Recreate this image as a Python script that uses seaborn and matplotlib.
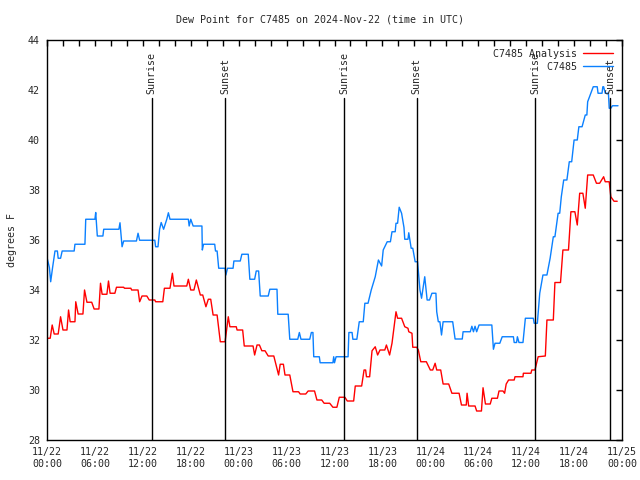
import pandas as pd
import seaborn as sns
import matplotlib.pyplot as plt
import matplotlib.dates as mdates
from matplotlib.ticker import MultipleLocator

# datos (horas desde 2024-11-22 00:00 UTC, grados F)
blue_h = [0.0, 0.3, 0.46, 0.7, 1.0, 1.3, 1.4, 1.7, 1.9, 3.4, 3.5, 4.75, 4.85, 6.0, 6.1, 6.3, 7.0, 7.1, 9.0,
          9.14, 9.4, 9.6, 11.2, 11.4, 11.6, 13.5, 13.6, 13.9, 14.1, 14.3, 14.6, 15.0, 15.2, 15.4, 17.7,
          17.8, 18.0, 18.3, 19.4, 19.45, 19.6, 21.0, 21.1, 21.3, 21.5, 22.3, 22.4, 22.6, 23.3, 23.4, 24.2,
          24.4, 25.2, 25.4, 26.0, 26.2, 26.5, 26.7, 27.7, 27.9, 28.8, 28.9, 30.2, 30.4, 31.4, 31.6, 31.8,
          32.9, 33.1, 33.3, 33.4, 34.1, 34.2, 35.8, 35.9, 36.0, 36.2, 37.7, 37.8, 38.2, 38.3, 38.8, 39.1,
          39.6, 39.8, 40.2, 40.6, 41.1, 41.5, 41.9, 42.1, 42.6, 43.0, 43.2, 43.6, 43.7, 43.9, 44.1, 44.4,
          44.7, 44.8, 45.2, 45.3, 45.6, 45.8, 46.1, 46.4, 46.7, 46.9, 47.3, 47.6, 47.9, 48.2, 48.7, 48.8,
          49.0, 49.2, 49.4, 49.6, 50.8, 51.1, 52.0, 52.1, 53.0, 53.2, 53.4, 53.6, 53.8, 54.1, 55.7, 55.9,
          56.1, 56.7, 57.0, 58.4, 58.5, 58.8, 58.9, 59.1, 59.6, 59.9, 60.9, 61.0, 61.4, 61.7, 62.1, 62.6,
          63.0, 63.4, 63.6, 64.0, 64.2, 64.4, 64.7, 65.1, 65.4, 65.7, 66.0, 66.4, 66.6, 67.0, 67.4, 67.6,
          67.7, 68.4, 68.9, 69.0, 69.5, 69.6, 69.7, 69.9, 70.3, 70.4, 70.6, 70.8, 71.5]
blue_v = [35.3, 34.9, 34.33, 34.9, 35.56, 35.56, 35.27, 35.27, 35.56, 35.56, 35.83, 35.83, 36.83, 36.83,
          37.1, 36.16, 36.16, 36.43, 36.43, 36.69, 35.73, 35.96, 35.96, 36.27, 35.99, 35.99, 35.73, 35.73,
          36.43, 36.7, 36.43, 36.83, 37.09, 36.83, 36.83, 36.56, 36.83, 36.56, 36.56, 35.6, 35.83, 35.83,
          35.56, 35.56, 34.87, 34.87, 34.6, 34.87, 34.87, 35.16, 35.16, 35.43, 35.43, 34.43, 34.43, 34.76,
          34.76, 33.76, 33.76, 34.03, 34.03, 33.03, 33.03, 32.03, 32.03, 32.3, 32.03, 32.03, 32.3, 32.3,
          31.33, 31.33, 31.09, 31.09, 31.33, 31.09, 31.33, 31.33, 32.3, 32.3, 32.03, 32.03, 32.73, 32.73,
          33.47, 33.47, 34.0, 34.53, 35.2, 34.96, 35.6, 35.93, 35.93, 36.33, 36.33, 36.67, 36.67, 37.31,
          37.07, 36.5, 36.03, 36.03, 36.29, 35.67, 35.67, 35.13, 35.13, 34.0, 33.67, 34.53, 33.6, 33.6,
          33.87, 33.87, 33.13, 32.73, 32.73, 32.2, 32.73, 32.73, 32.04, 32.04, 32.33, 32.33, 32.55, 32.33,
          32.55, 32.33, 32.6, 32.6, 31.63, 31.87, 31.87, 32.13, 32.13, 31.9, 31.9, 32.13, 31.9, 31.9, 32.87,
          32.87, 32.67, 32.67, 33.87, 34.6, 34.6, 35.27, 36.13, 36.13, 37.07, 37.07, 37.73, 38.4, 38.4,
          39.13, 39.13, 40.0, 40.0, 40.53, 40.53, 41.0, 41.0, 41.53, 42.13, 42.13, 41.87, 41.87, 42.13,
          42.13, 41.87, 41.87, 41.27, 41.27, 41.37, 41.37]

red_h = [0.0, 0.4, 0.65, 0.9, 1.4, 1.7, 2.0, 2.5, 2.7, 2.9, 3.5, 3.6, 3.9, 4.5, 4.7, 5.0, 5.6, 5.9, 6.5,
         6.7, 6.9, 7.5, 7.7, 7.9, 8.5, 8.7, 9.6, 9.7, 10.5, 10.6, 11.4, 11.6, 11.9, 12.5, 12.8, 13.5, 13.6,
         14.5, 14.7, 15.4, 15.7, 15.9, 17.5, 17.7, 18.0, 18.4, 18.7, 19.2, 19.5, 19.9, 20.2, 20.5, 20.8,
         21.3, 21.7, 22.3, 22.7, 22.9, 23.7, 23.8, 24.5, 24.7, 25.8, 26.0, 26.3, 26.6, 26.9, 27.3, 27.7,
         28.4, 29.0, 29.2, 29.6, 29.8, 30.4, 30.8, 31.5, 31.7, 32.4, 32.7, 33.5, 33.8, 34.4, 34.7, 35.4,
         35.8, 36.3, 36.6, 37.3, 37.6, 38.4, 38.6, 39.4, 39.7, 39.9, 40.0, 40.4, 40.7, 41.1, 41.4, 41.7,
         42.3, 42.5, 42.9, 43.2, 43.7, 43.9, 44.4, 44.8, 45.2, 45.3, 45.7, 45.8, 46.3, 46.5, 46.8, 47.5,
         48.0, 48.3, 48.6, 48.8, 49.3, 49.6, 50.3, 50.7, 51.6, 51.9, 52.5, 52.6, 52.8, 53.6, 53.8, 54.4,
         54.6, 54.9, 55.5, 55.7, 56.4, 56.6, 57.1, 57.3, 57.5, 57.8, 58.5, 58.6, 59.6, 59.65, 60.6, 60.7,
         61.1, 61.5, 62.4, 62.6, 63.4, 63.6, 64.3, 64.6, 65.3, 65.6, 66.1, 66.4, 66.7, 67.1, 67.4, 67.7,
         68.4, 68.8, 69.2, 69.7, 69.9, 70.4, 70.6, 71.0, 71.4]
red_v = [32.07, 32.07, 32.6, 32.24, 32.24, 32.93, 32.4, 32.4, 33.2, 32.73, 32.73, 33.53, 33.04, 33.04,
         34.0, 33.51, 33.51, 33.24, 33.24, 34.27, 33.83, 33.83, 34.36, 33.87, 33.87, 34.11, 34.11, 34.07,
         34.07, 34.0, 34.0, 33.53, 33.76, 33.76, 33.6, 33.6, 33.53, 33.53, 34.07, 34.07, 34.67, 34.16,
         34.16, 34.43, 34.0, 34.0, 34.4, 33.8, 33.8, 33.33, 33.63, 33.63, 33.0, 33.0, 31.93, 31.93, 32.93,
         32.53, 32.53, 32.4, 32.4, 31.76, 31.76, 31.4, 31.8, 31.8, 31.57, 31.57, 31.36, 31.36, 30.6, 31.03,
         31.03, 30.6, 30.6, 29.93, 29.93, 29.84, 29.84, 29.96, 29.96, 29.6, 29.6, 29.47, 29.47, 29.31,
         29.31, 29.71, 29.71, 29.56, 29.56, 30.16, 30.16, 30.8, 30.8, 30.53, 30.53, 31.57, 31.73, 31.4,
         31.6, 31.6, 31.8, 31.4, 31.87, 33.13, 32.87, 32.87, 32.53, 32.47, 32.33, 32.27, 31.71, 31.71,
         31.6, 31.13, 31.13, 30.8, 30.8, 31.07, 30.8, 30.8, 30.24, 30.24, 29.87, 29.87, 29.4, 29.4, 29.87,
         29.36, 29.36, 29.16, 29.16, 30.09, 29.44, 29.44, 29.67, 29.67, 29.96, 29.96, 29.87, 30.24, 30.4,
         30.4, 30.53, 30.53, 30.67, 30.67, 30.8, 30.8, 31.33, 31.36, 32.8, 32.8, 34.3, 34.3, 35.6, 35.6,
         37.13, 37.13, 36.6, 37.87, 37.87, 37.27, 38.6, 38.6, 38.27, 38.27, 38.53, 38.33, 38.33, 37.73,
         37.55, 37.55]

# amanecer / atardecer (horas)
sun_h = [13.1, 22.3, 37.2, 46.3, 61.1, 70.5]
sun_labels = ['Sunrise', 'Sunset', 'Sunrise', 'Sunset', 'Sunrise', 'Sunset']

start = pd.Timestamp('2024-11-22 00:00')
df_red = pd.DataFrame({'time': start + pd.to_timedelta(red_h, unit='h'), 'dewpoint': red_v})
df_blue = pd.DataFrame({'time': start + pd.to_timedelta(blue_h, unit='h'), 'dewpoint': blue_v})

sns.set_style('white')
plt.rcParams['font.family'] = ['DejaVu Sans Mono']
plt.rcParams['font.size'] = 7.2

fig = plt.figure(figsize=(6.4, 4.8), dpi=100)
ax = fig.add_axes([47 / 640, 40 / 480, 575 / 640, 400 / 480])

# etiquetas con el mismo ancho (fuente monoespaciada) para alinear a la derecha
sns.lineplot(data=df_red, x='time', y='dewpoint', color='#ff0000', linewidth=1.0,
             label='C7485 Analysis', ax=ax)
sns.lineplot(data=df_blue, x='time', y='dewpoint', color='#0a80ff', linewidth=1.0,
             label='C7485'.rjust(14), ax=ax)

ax.set_xlim(start, start + pd.Timedelta(hours=72))
ax.set_ylim(28, 44)

for h, lab in zip(sun_h, sun_labels):
    t = start + pd.Timedelta(hours=h)
    ax.axvline(t, ymin=0, ymax=(41.68 - 28) / 16, color='black', linewidth=1.0)
    ax.text(t, 41.85, lab, rotation=90, ha='center', va='bottom', fontsize=7.2)

ax.xaxis.set_major_locator(mdates.HourLocator(byhour=[0, 6, 12, 18]))
ax.xaxis.set_minor_locator(mdates.HourLocator(interval=2))
ax.xaxis.set_major_formatter(mdates.DateFormatter('%m/%d\n%H:%M'))
ax.yaxis.set_major_locator(MultipleLocator(2))
ax.tick_params(which='both', direction='in', length=4, width=1, top=True, right=True,
               labelsize=7.2, color='black', pad=5)

for s in ax.spines.values():
    s.set_color('black')
    s.set_linewidth(1.0)

ax.set_xlabel('')
ax.set_ylabel('')
fig.text(12 / 640, 0.5, 'degrees F', rotation=90, ha='center', va='center', fontsize=7.2)
fig.text(0.5, 1 - 19 / 480, 'Dew Point for C7485 on 2024-Nov-22 (time in UTC)',
         ha='center', va='center', fontsize=7.2)

ax.legend(loc='upper right', frameon=False, markerfirst=False,
          handlelength=3.0, fontsize=7.2, borderaxespad=0.5, labelspacing=0.3,
          handletextpad=0.6)

fig.savefig('out.png', dpi=100)
